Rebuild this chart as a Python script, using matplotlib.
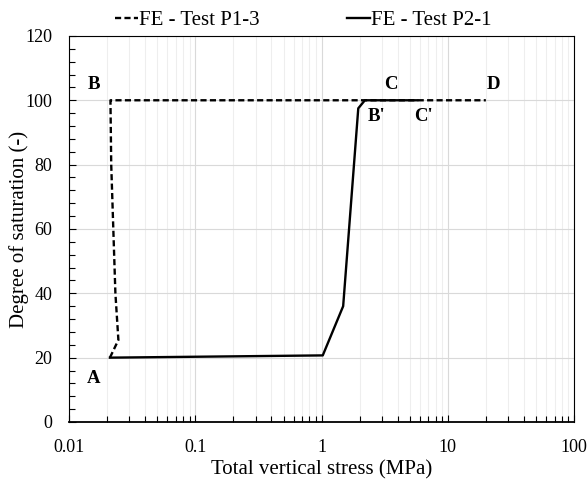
import matplotlib
matplotlib.use("Agg")
import matplotlib.pyplot as plt
from matplotlib.ticker import LogLocator, FixedLocator, MultipleLocator, FuncFormatter

plt.rcParams["font.family"] = ["Liberation Serif", "DejaVu Serif"]

# FE - Test P1-3 (dashed)
p13_stress = [0.021, 0.0245, 0.0232, 0.0215, 0.0212, 20]
p13_sat = [20, 25.5, 40, 80, 100, 100]

# FE - Test P2-1 (solid)
p21_stress = [0.021, 1.02, 1.48, 1.95, 2.2, 5.7]
p21_sat = [20, 20.7, 36, 97.5, 100, 100]

# point labels
pt_names = ["A", "B", "C", "D", "B'", "C'"]
pt_x = [0.0155, 0.0156, 3.55, 23, 2.7, 6.4]
pt_y = [13.6, 105, 105, 105, 95, 95]

fig = plt.figure(figsize=(5.87, 4.79), dpi=100)
ax = fig.add_axes([0.118, 0.119, 0.860, 0.806])

ax.plot(p13_stress, p13_sat, color="black", lw=1.7, ls=(0, (2.6, 1.4)), label="FE - Test P1-3")
ax.plot(p21_stress, p21_sat, color="black", lw=1.7, label="FE - Test P2-1")

for name, x, y in zip(pt_names, pt_x, pt_y):
    ax.text(x, y, name, fontsize=13.5, fontweight="bold", ha="center", va="center")

ax.set_xscale("log")
ax.set_xlim(0.01, 100)
ax.set_ylim(0, 120)
ax.xaxis.set_major_locator(FixedLocator([0.01, 0.1, 1, 10, 100]))
ax.xaxis.set_major_formatter(FuncFormatter(lambda v, p: f"{v:g}"))
ax.xaxis.set_minor_locator(LogLocator(base=10, subs=range(2, 10)))
ax.yaxis.set_major_locator(MultipleLocator(20))
ax.yaxis.set_minor_locator(MultipleLocator(4))

ax.grid(True, which="major", color="#d9d9d9", lw=0.8)
ax.grid(True, which="minor", axis="x", color="#eeeeee", lw=0.8)
ax.set_axisbelow(True)

ax.tick_params(which="both", direction="in", top=False, right=False, labelsize=13)
ax.tick_params(axis="x", which="major", pad=12)
ax.tick_params(axis="y", which="major", pad=12)
ax.tick_params(which="major", length=5, width=0.8)
ax.tick_params(which="minor", length=4, width=0.8)
for s in ax.spines.values():
    s.set_linewidth(0.8)
ax.spines["bottom"].set_linewidth(1.3)

ax.set_xlabel("Total vertical stress (MPa)", fontsize=15, labelpad=3)
ax.set_ylabel("Degree of saturation (-)", fontsize=15, labelpad=-2.5)

ax.legend(loc="center", bbox_to_anchor=(0.517, 0.958), bbox_transform=fig.transFigure,
          ncol=2, frameon=False, fontsize=15, handlelength=1.1, handletextpad=0.05,
          columnspacing=4.2, borderpad=0.1)

fig.savefig("out.png", dpi=100)
